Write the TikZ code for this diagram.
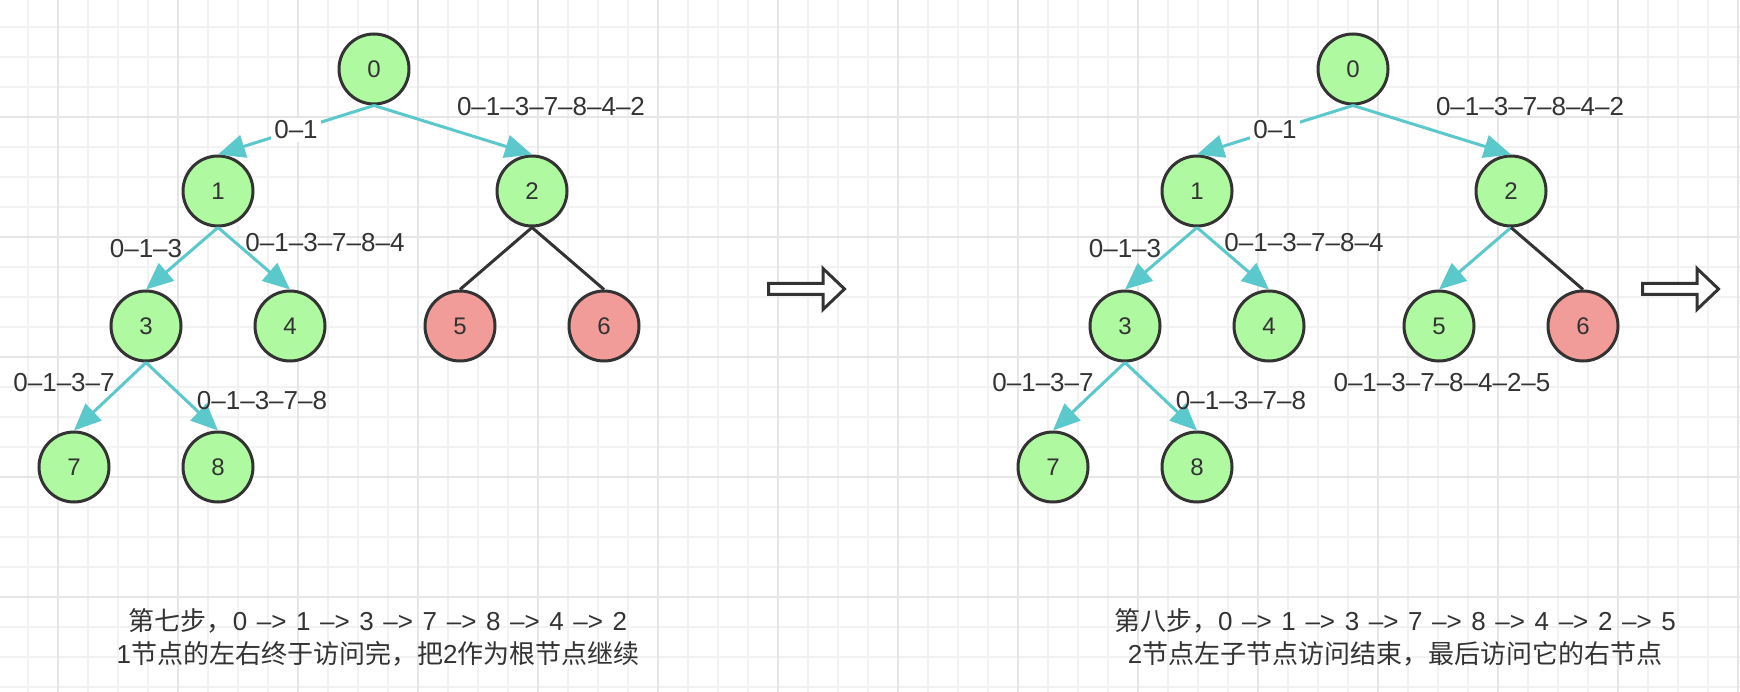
\documentclass[tikz,border=0pt]{standalone}
\usepackage{fontspec}
\setmainfont{Liberation Sans}
\newfontfamily\cjk{Noto Sans CJK SC}
\newfontfamily\capfont[WordSpace=1.33]{Liberation Sans}
\usetikzlibrary{arrows.meta}
\definecolor{nodegreen}{RGB}{175,249,161}
\definecolor{nodered}{RGB}{241,156,153}
\definecolor{edgecyan}{RGB}{91,200,204}
\definecolor{darkline}{RGB}{51,51,51}
\definecolor{gridminor}{RGB}{242,242,242}
\definecolor{gridmajor}{RGB}{230,230,230}
\begin{document}
\begin{tikzpicture}[x=1pt,y=-1pt,
  tnode/.style={circle, draw=darkline, line width=3pt, minimum size=70pt, inner sep=0pt, font=\fontsize{24}{28}\selectfont, text=darkline},
  visited/.style={tnode, fill=nodegreen},
  unvisited/.style={tnode, fill=nodered},
  walk/.style={draw=edgecyan, line width=3pt, -{Triangle[length=27pt,width=23pt]}},
  plainedge/.style={draw=darkline, line width=3pt},
  pathlabel/.style={font=\fontsize{26}{30}\selectfont, text=darkline, inner sep=1pt},
  boxlabel/.style={pathlabel, fill=white, inner sep=3pt},
  captiontext/.style={font=\capfont\fontsize{26}{33}\selectfont, text=darkline, align=center},
  blockarrow/.style={draw=darkline, line width=3pt, fill=white, line join=miter}
]
\useasboundingbox (0,0) rectangle (1740,692);
\fill[white] (0,0) rectangle (1740,692);
% grid
\foreach \x in {28,58,...,1738} \draw[gridminor, line width=1.5pt] (\x,0) -- (\x,692);
\foreach \y in {27,57,...,687} \draw[gridminor, line width=1.5pt] (0,\y) -- (1740,\y);
\foreach \x in {58,178,...,1738} \draw[gridmajor, line width=1.5pt] (\x,0) -- (\x,692);
\foreach \y in {117,237,...,687} \draw[gridmajor, line width=1.5pt] (0,\y) -- (1740,\y);

% ---------- left tree ----------
\node[visited] (a0) at (374,69) {0};
\node[visited] (a1) at (218,191) {1};
\node[visited] (a2) at (532,191) {2};
\node[visited] (a3) at (146,326) {3};
\node[visited] (a4) at (290,326) {4};
\node[unvisited] (a5) at (460,326) {5};
\node[unvisited] (a6) at (604,326) {6};
\node[visited] (a7) at (74,467) {7};
\node[visited] (a8) at (218,467) {8};

\draw[walk] (a0.south) -- node[boxlabel] {0–1} (a1.north);
\draw[walk] (a0.south) -- (a2.north);
\draw[walk] (a1.south) -- (a3.north);
\draw[walk] (a1.south) -- (a4.north);
\draw[walk] (a3.south) -- (a7.north);
\draw[walk] (a3.south) -- (a8.north);
\draw[plainedge] (a2.south) -- (a5.north);
\draw[plainedge] (a2.south) -- (a6.north);

\node[pathlabel] (la2) at (551,107) {0–1–3–7–8–4–2};
\node[pathlabel] (la3) at (146,249) {0–1–3};
\node[pathlabel] (la4) at (325,243) {0–1–3–7–8–4};
\node[pathlabel] (la7) at (64,383) {0–1–3–7};
\node[pathlabel] (la8) at (262,401) {0–1–3–7–8};

\node[captiontext] (capa) at (378,637) {{\cjk 第七步，}0 –> 1 –> 3 –> 7 –> 8 –> 4 –> 2\\1{\cjk 节点的左右终于访问完，把}2{\cjk 作为根节点继续}};

% ---------- block arrows ----------
\draw[blockarrow] (768.5,283.5) -- (823,283.5) -- (823,268.5) -- (844.5,289) -- (823,309.5) -- (823,294.5) -- (768.5,294.5) -- cycle;
\draw[blockarrow] (1642.5,283.5) -- (1697,283.5) -- (1697,268.5) -- (1718.5,289) -- (1697,309.5) -- (1697,294.5) -- (1642.5,294.5) -- cycle;

% ---------- right tree ----------
\node[visited] (b0) at (1353,69) {0};
\node[visited] (b1) at (1197,191) {1};
\node[visited] (b2) at (1511,191) {2};
\node[visited] (b3) at (1125,326) {3};
\node[visited] (b4) at (1269,326) {4};
\node[visited] (b5) at (1439,326) {5};
\node[unvisited] (b6) at (1583,326) {6};
\node[visited] (b7) at (1053,467) {7};
\node[visited] (b8) at (1197,467) {8};

\draw[walk] (b0.south) -- node[boxlabel] {0–1} (b1.north);
\draw[walk] (b0.south) -- (b2.north);
\draw[walk] (b1.south) -- (b3.north);
\draw[walk] (b1.south) -- (b4.north);
\draw[walk] (b3.south) -- (b7.north);
\draw[walk] (b3.south) -- (b8.north);
\draw[walk] (b2.south) -- (b5.north);
\draw[plainedge] (b2.south) -- (b6.north);

\node[pathlabel] (lb2) at (1530,107) {0–1–3–7–8–4–2};
\node[pathlabel] (lb3) at (1125,249) {0–1–3};
\node[pathlabel] (lb4) at (1304,243) {0–1–3–7–8–4};
\node[pathlabel] (lb7) at (1043,383) {0–1–3–7};
\node[pathlabel] (lb8) at (1241,401) {0–1–3–7–8};
\node[pathlabel] (lb5) at (1442,383) {0–1–3–7–8–4–2–5};

\node[captiontext] (capb) at (1395,637) {{\cjk 第八步，}0 –> 1 –> 3 –> 7 –> 8 –> 4 –> 2 –> 5\\2{\cjk 节点左子节点访问结束，最后访问它的右节点}};
\end{tikzpicture}
\end{document}
